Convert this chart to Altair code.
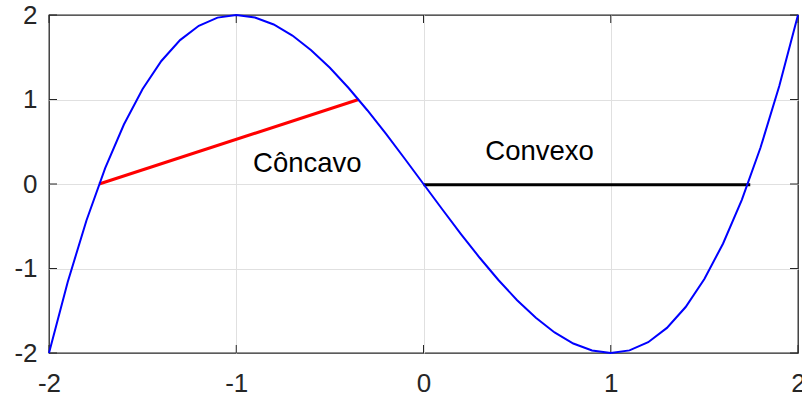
import altair as alt
import pandas as pd

# Curve samples (x, f(x))
x_vals = [-2.0, -1.9, -1.8, -1.7, -1.6, -1.5, -1.4, -1.3, -1.2, -1.1, -1.0,
          -0.9, -0.8, -0.7, -0.6, -0.5, -0.4, -0.3, -0.2, -0.1, 0.0,
          0.1, 0.2, 0.3, 0.4, 0.5, 0.6, 0.7, 0.8, 0.9, 1.0,
          1.1, 1.2, 1.3, 1.4, 1.5, 1.6, 1.7, 1.8, 1.9, 2.0]
y_vals = [-2.0, -1.159, -0.432, 0.187, 0.704, 1.125, 1.456, 1.703, 1.872, 1.969, 2.0,
          1.971, 1.888, 1.757, 1.584, 1.375, 1.136, 0.873, 0.592, 0.299, 0.0,
          -0.299, -0.592, -0.873, -1.136, -1.375, -1.584, -1.757, -1.888, -1.971, -2.0,
          -1.969, -1.872, -1.703, -1.456, -1.125, -0.704, -0.187, 0.432, 1.159, 2.0]

concavo_x = [-1.732, -0.347]
concavo_y = [0.0, 1.0]
convexo_x = [0.0, 1.745]
convexo_y = [-0.01, -0.01]

label_texts = ["Côncavo", "Convexo"]
label_x = [-0.91, 0.33]
label_y = [0.24, 0.38]

x_ticks = [-2, -1, 0, 1, 2]
y_ticks = [-2, -1, 0, 1, 2]

FONT = "Liberation Sans"
AX = "#262626"

curve_df = pd.DataFrame({"x": x_vals, "y": y_vals})
red_df = pd.DataFrame({"x": concavo_x, "y": concavo_y})
blk_df = pd.DataFrame({"x": convexo_x, "y": convexo_y})
lbl_df = pd.DataFrame({"x": label_x, "y": label_y, "t": label_texts})
xt_df = pd.DataFrame({"x": x_ticks})
yt_df = pd.DataFrame({"y": y_ticks})

xs = alt.Scale(domain=[-2, 2], nice=False, zero=False)
ys = alt.Scale(domain=[-2, 2], nice=False, zero=False)

grid_op = {"condition": {"test": "abs(datum.value) >= 2", "value": 0}, "value": 1}

xaxis = alt.Axis(values=x_ticks, grid=True, gridColor="#e0e0e0", gridWidth=1,
                 gridOpacity=grid_op, ticks=False, domain=False, labelFont=FONT,
                 labelFontSize=26, labelColor=AX, labelPadding=17, title=None,
                 labelFlush=False, labelOverlap=False, labelBound=False,
                 labelExpr="'' + datum.value")
yaxis = alt.Axis(values=y_ticks, grid=True, gridColor="#e0e0e0", gridWidth=1,
                 gridOpacity=grid_op, ticks=False, domain=False, labelFont=FONT,
                 labelFontSize=26, labelColor=AX, labelPadding=12, title=None,
                 labelFlush=False, labelOverlap=False,
                 labelExpr="'' + datum.value")

base_axes = alt.Chart(curve_df).mark_line(color="blue", strokeWidth=2).encode(
    x=alt.X("x:Q", scale=xs, axis=xaxis),
    y=alt.Y("y:Q", scale=ys, axis=yaxis),
)

red = alt.Chart(red_df).mark_line(color="#ff0000", strokeWidth=3).encode(
    x=alt.X("x:Q", scale=xs), y=alt.Y("y:Q", scale=ys))
blk = alt.Chart(blk_df).mark_line(color="black", strokeWidth=3).encode(
    x=alt.X("x:Q", scale=xs), y=alt.Y("y:Q", scale=ys))

labels = alt.Chart(lbl_df).mark_text(align="left", baseline="middle", font=FONT,
                                     fontSize=27.5, color="black").encode(
    x=alt.X("x:Q", scale=xs), y=alt.Y("y:Q", scale=ys), text="t:N")

TL = 8
ytick_l = alt.Chart(yt_df).mark_rule(color=AX, strokeWidth=1).encode(
    y=alt.Y("y:Q", scale=ys), x=alt.value(0), x2=alt.value(TL))
ytick_r = alt.Chart(yt_df).mark_rule(color=AX, strokeWidth=1).encode(
    y=alt.Y("y:Q", scale=ys), x=alt.value(749 - TL), x2=alt.value(749))
xtick_b = alt.Chart(xt_df).mark_rule(color=AX, strokeWidth=1).encode(
    x=alt.X("x:Q", scale=xs), y=alt.value(338 - TL), y2=alt.value(338))
xtick_t = alt.Chart(xt_df).mark_rule(color=AX, strokeWidth=1).encode(
    x=alt.X("x:Q", scale=xs), y=alt.value(0), y2=alt.value(TL))

chart = alt.layer(
    ytick_l, ytick_r, xtick_b, xtick_t,
    red, blk, base_axes, labels,
).properties(
    width=749, height=338,
    autosize=alt.AutoSizeParams(type="none"),
    padding={"left": 49, "top": 15, "right": 4, "bottom": 46},
    background="white",
).configure_view(stroke=AX, strokeWidth=1.3)

chart.save("out.html", embed_options={"renderer": "svg", "actions": False})
